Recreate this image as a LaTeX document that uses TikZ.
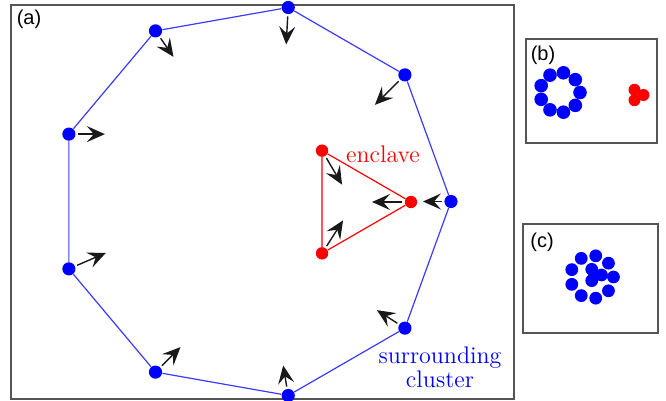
\documentclass[tikz,border=0pt]{standalone}
\usepackage{fontspec}
\newfontfamily\labelfont{Liberation Sans}
\usepackage{tikz}
\usetikzlibrary{arrows.meta, calc}
\definecolor{cblue}{HTML}{0000FF}
\definecolor{cred}{HTML}{FF0000}
\definecolor{cline}{HTML}{3B3BFF}
\definecolor{cframe}{HTML}{555555}

\tikzset{
  bdot/.style={circle, fill=cblue, inner sep=0pt, minimum size=6.6pt},
  rdot/.style={circle, fill=cred, inner sep=0pt, minimum size=6.2pt},
  quiv/.style={-{Stealth[length=9pt, width=8pt, inset=3.5pt]}, black!90, line width=0.7pt, shorten <=1pt},
  framebox/.style={draw=cframe, line width=1pt},
  panellabel/.style={font=\labelfont, inner sep=0pt},
}

\begin{document}
\begin{tikzpicture}[x=0.5pt, y=-0.5pt]
  \useasboundingbox (0,0) rectangle (666,401);

  % Frames
  \draw[framebox] (11,5) rectangle (514,399);
  \draw[framebox] (526,39) rectangle (657,143);
  \draw[framebox] (523,224) rectangle (658,333);
  \node[panellabel] (la) at (29,19) {(a)};
  \node[panellabel] (lb) at (543,55) {(b)};
  \node[panellabel] (lc) at (542,242) {(c)};

  % Surrounding cluster
  \foreach \k in {0,...,8}
    \node[bdot] (b\k) at ($(254,201.5)+({-40*\k}:197)$) {};
  \draw[cline, line width=0.6pt] (b0) -- (b1) -- (b2) -- (b3) -- (b4) -- (b5) -- (b6) -- (b7) -- (b8) -- (b0);

  % Enclave
  \foreach \k in {0,1,2}
    \node[rdot] (r\k) at ($(351.7,202)+({-120*\k}:59.3)$) {};
  \draw[cred, line width=0.6pt] (r0) -- (r1) -- (r2) -- (r0);

  % Forces
  \foreach \k/\dx/\dy in {0/-28/0, 1/-30/30, 2/-2/37, 3/18/26, 4/36/0, 5/37/-16, 6/25/-25, 7/-5/-30, 8/-28/-18}{
    \coordinate (bv\k) at ($(b\k)+(\dx,\dy)$);
    \draw[quiv] (b\k) -- (bv\k);
  }
  \foreach \k/\dx/\dy in {0/-39/0, 1/20/34, 2/21/-33}{
    \coordinate (rv\k) at ($(r\k)+(\dx,\dy)$);
    \draw[quiv] (r\k) -- (rv\k);
  }

  % Labels
  \node[cred, font=\large, anchor=base, inner sep=0pt] (encl) at (383,163) {enclave};
  \node[cblue, font=\large, align=center, inner sep=0pt] (surr) at (440,367) {surrounding\\[-2pt]cluster};

  % Panel (b)
  \foreach \a in {0,40,...,320}
    \fill[cblue] ($(560,92.5)+(\a:20)$) circle (3.4pt);
  \foreach \a in {0,120,240}
    \fill[cred] ($(637.5,95)+(\a:6)$) circle (3pt);

  % Panel (c)
  \foreach \a in {0,40,...,320}
    \fill[cblue] ($(592,277)+(\a:21.5)$) circle (3.2pt);
  \foreach \a in {0,120,240}
    \fill[cblue] ($(595,275)+(\a:6.5)$) circle (3.2pt);
\end{tikzpicture}
\end{document}
